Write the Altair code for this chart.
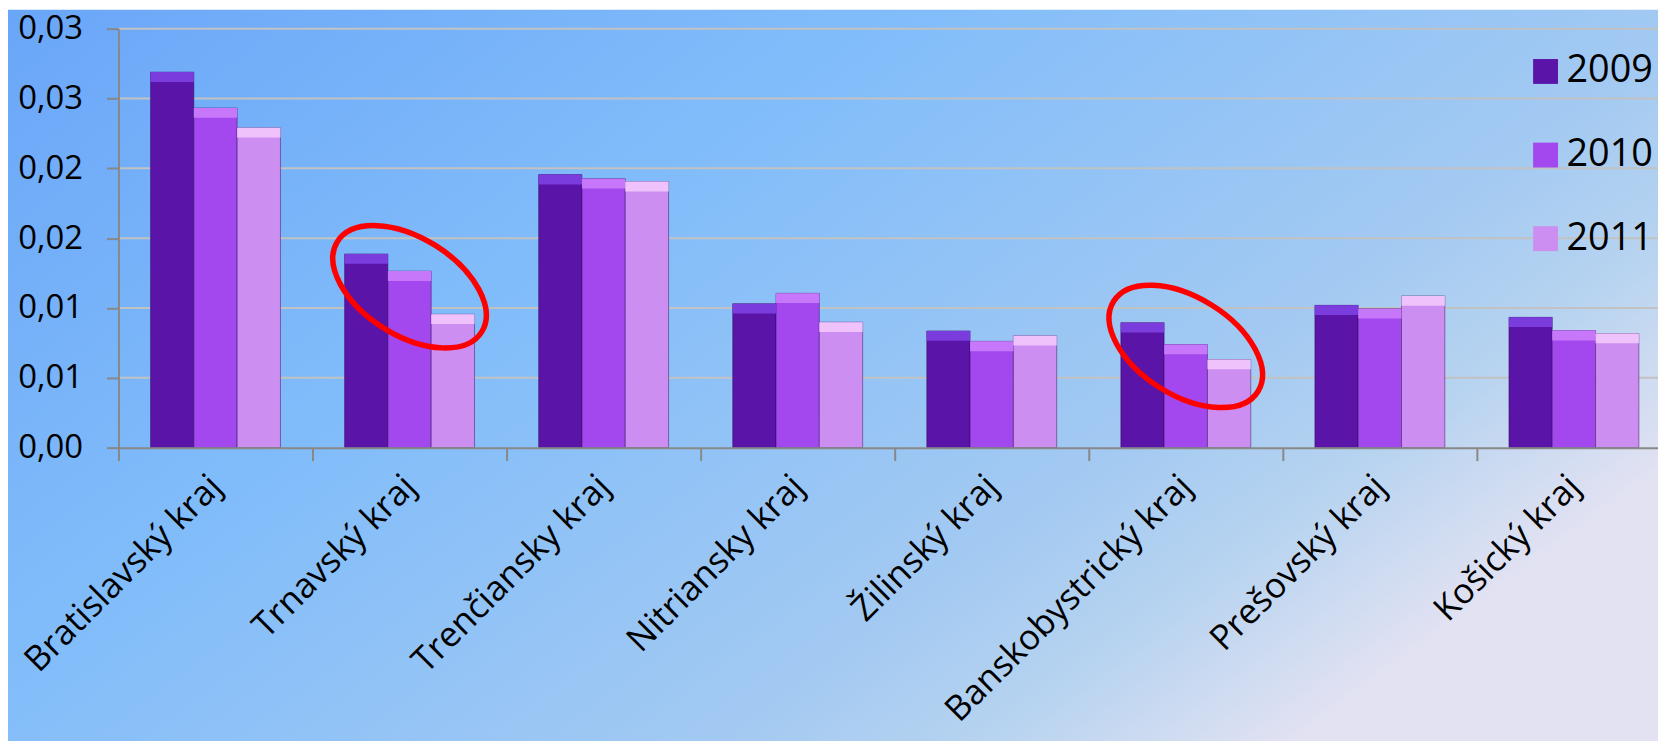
import altair as alt
import pandas as pd

regions = ["Bratislavský kraj", "Trnavský kraj", "Trenčiansky kraj", "Nitriansky kraj",
           "Žilinský kraj", "Banskobystrický kraj", "Prešovský kraj", "Košický kraj"]
years = ["2009", "2010", "2011"]
v2009 = [0.02689, 0.01387, 0.01955, 0.01031, 0.00836, 0.00895, 0.01019, 0.00933]
v2010 = [0.02432, 0.01264, 0.01926, 0.01105, 0.00761, 0.00738, 0.00995, 0.00838]
v2011 = [0.02290, 0.00955, 0.01905, 0.00898, 0.00801, 0.00631, 0.01086, 0.00817]
y_tick_values = [0, 0.005, 0.01, 0.015, 0.02, 0.025, 0.03]
y_tick_labels = ["0,00", "0,01", "0,01", "0,02", "0,02", "0,03", "0,03"]
colors = ["#5a14a8", "#a347ee", "#cc8ef0"]
bevel_colors = ["#7a3cdc", "#c677fa", "#efc2fb"]
ellipse_regions = ["Trnavský kraj", "Banskobystrický kraj"]
ellipse_centers = [0.01152, 0.00725]

rows = []
for yr, vals in zip(years, [v2009, v2010, v2011]):
    for r, v in zip(regions, vals):
        rows.append({"region": r, "year": yr, "value": v})
df = pd.DataFrame(rows)
grid_df = pd.DataFrame({"value": y_tick_values[1:]})
ell_df = pd.DataFrame({"region": ellipse_regions, "value": ellipse_centers})

label_expr = "[" + ",".join("'%s'" % s for s in y_tick_labels) + "][round(datum.value/0.005)]"

FONT = "Open Sans"
x_scale = alt.Scale(domain=regions, range=[0, 1560], paddingInner=0, paddingOuter=0)
y_scale = alt.Scale(domain=[0, 0.03], nice=False)

x_axis = alt.Axis(labelAngle=-45, labelAlign="right", labelBaseline="middle",
                  labelFontSize=35, labelFont=FONT, labelColor="black",
                  labelPadding=20, tickSize=13, tickBand="extent",
                  domainColor="#888888", domainWidth=2, tickColor="#888888",
                  tickWidth=2, labelLimit=0, labelOverlap=False, grid=False, zindex=1)
y_axis = alt.Axis(values=y_tick_values, labelExpr=label_expr, labelFontSize=33,
                  labelFont=FONT, labelColor="black", labelPadding=24, tickSize=12,
                  domainColor="#888888", domainWidth=2, tickColor="#888888",
                  tickWidth=2, grid=False, zindex=1)

X = alt.X("region:N", sort=regions, scale=x_scale, title=None, axis=x_axis)
Y = alt.Y("value:Q", scale=y_scale, title=None, axis=y_axis)
XO = alt.XOffset("year:N", sort=years, scale=alt.Scale(paddingInner=0, paddingOuter=0.74))

bg = alt.Chart(alt.Data(values=[{"a": 1}])).mark_rect(
    clip=False,
    color=alt.LinearGradient(
        gradient="linear", x1=0, y1=0, x2=1, y2=0.6,
        stops=[alt.GradientStop(offset=0, color="#6aa6f8"),
               alt.GradientStop(offset=0.4, color="#82bdfa"),
               alt.GradientStop(offset=0.74, color="#a2c9f2"),
               alt.GradientStop(offset=0.86, color="#b6d3f0"),
               alt.GradientStop(offset=1, color="#e2e2f2")])
).encode(x=alt.value(-111), x2=alt.value(1570), y=alt.value(-19), y2=alt.value(730))

grid = alt.Chart(grid_df).mark_rule(color="#c2c2c2", strokeWidth=2).encode(y=Y)

bars = alt.Chart(df).mark_bar(stroke="#2a0650", strokeOpacity=0.45, strokeWidth=1).encode(
    x=X, xOffset=XO, y=Y,
    color=alt.Color("year:N", scale=alt.Scale(domain=years, range=colors),
                    legend=alt.Legend(title=None, orient="none", legendX=1415, legendY=24,
                                      symbolType="square", symbolSize=625, symbolStrokeWidth=0,
                                      labelFontSize=38, labelFont=FONT, labelColor="black",
                                      labelOffset=2, rowPadding=46, padding=0))
)

bevel = alt.Chart(df).transform_calculate(
    top2="datum.value - 0.0007"
).mark_bar(strokeWidth=0).encode(
    x=X, xOffset=XO, y=Y, y2="top2:Q",
    fill=alt.Fill("year:N", scale=alt.Scale(domain=years, range=bevel_colors), legend=None)
)

ellipse_path = "M -1 0 A 1 0.573 0 1 0 1 0 A 1 0.573 0 1 0 -1 0 Z"
ellipses = alt.Chart(ell_df).mark_point(
    shape=ellipse_path, size=29241, angle=32, filled=False,
    stroke="#ff0000", strokeWidth=5.5, opacity=1
).encode(x=X, y=Y)

chart = alt.layer(bg, grid, bars, bevel, ellipses).resolve_scale(
    color="independent", fill="independent"
).properties(
    width=1547, height=421,
    autosize=alt.AutoSizeParams(type="none"),
    padding={"left": 111, "top": 19, "right": 0, "bottom": 293}
).configure_view(strokeWidth=0)

chart.save("out.html", embed_options={"renderer": "svg", "actions": False})
